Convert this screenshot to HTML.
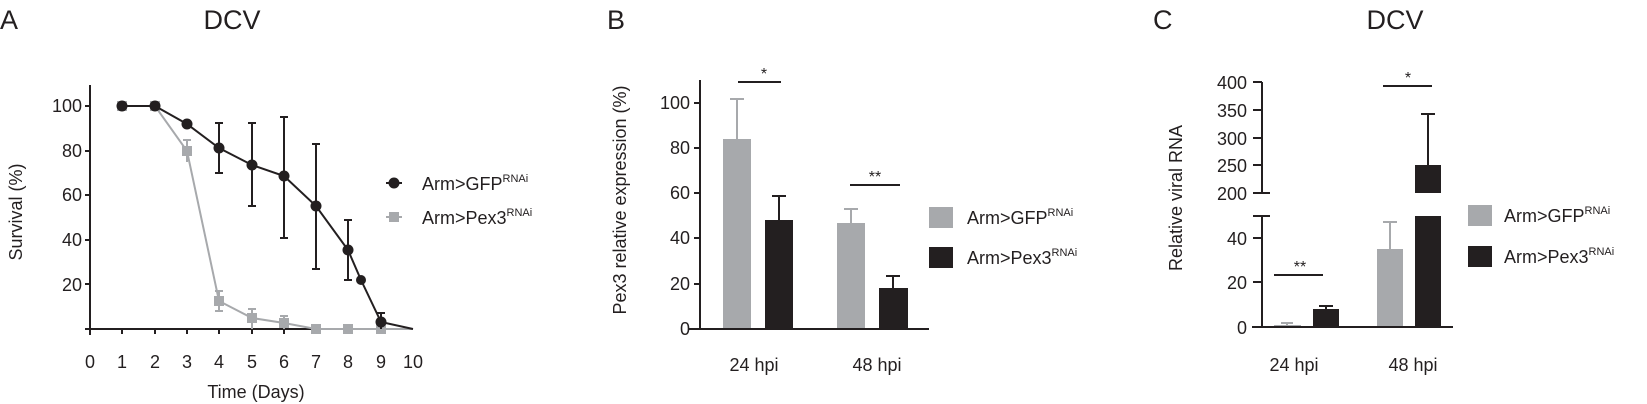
<!DOCTYPE html>
<html><head><meta charset="utf-8"><style>
body{margin:0;background:#fff}
svg{display:block;font-family:"Liberation Sans",Arial,sans-serif;fill:#231f20}
</style></head><body>
<svg width="1647" height="404" viewBox="0 0 1647 404" xmlns="http://www.w3.org/2000/svg">
<g font-size="27">
<text x="0" y="29">A</text>
<text x="232" y="29" text-anchor="middle">DCV</text>
<text x="607" y="29">B</text>
<text x="1153" y="29">C</text>
<text x="1395" y="29" text-anchor="middle">DCV</text>
</g>
<!-- Panel A -->
<g stroke="#231f20" stroke-width="2" fill="none">
<line x1="90" y1="85" x2="90" y2="335"/>
<line x1="85" y1="329" x2="413" y2="329"/>
<line x1="85" y1="106" x2="90" y2="106"/><line x1="85" y1="151" x2="90" y2="151"/><line x1="85" y1="195" x2="90" y2="195"/><line x1="85" y1="240" x2="90" y2="240"/><line x1="85" y1="284" x2="90" y2="284"/>
<line x1="122" y1="329" x2="122" y2="334"/><line x1="155" y1="329" x2="155" y2="334"/><line x1="187" y1="329" x2="187" y2="334"/><line x1="219" y1="329" x2="219" y2="334"/><line x1="252" y1="329" x2="252" y2="334"/><line x1="284" y1="329" x2="284" y2="334"/><line x1="316" y1="329" x2="316" y2="334"/><line x1="348" y1="329" x2="348" y2="334"/><line x1="381" y1="329" x2="381" y2="334"/>
</g>
<g font-size="18" text-anchor="end">
<text x="82" y="112">100</text><text x="82" y="157">80</text><text x="82" y="201">60</text><text x="82" y="246">40</text><text x="82" y="291">20</text>
</g>
<g font-size="18" text-anchor="middle">
<text x="90" y="368">0</text><text x="122" y="368">1</text><text x="155" y="368">2</text><text x="187" y="368">3</text><text x="219" y="368">4</text><text x="252" y="368">5</text><text x="284" y="368">6</text><text x="316" y="368">7</text><text x="348" y="368">8</text><text x="381" y="368">9</text><text x="413" y="368">10</text>
<text x="256" y="398">Time (Days)</text>
<text transform="translate(22,212) rotate(-90)">Survival (%)</text>
</g>
<g stroke="#a7a9ac" stroke-width="2" fill="none">
<polyline points="122,106 155,106 187,151 219,301 252,318 284,323 316,329 348,329 381,329 413,329"/>
<line x1="187" y1="140" x2="187" y2="162"/><line x1="183" y1="140" x2="191" y2="140"/>
<line x1="219" y1="291" x2="219" y2="311"/><line x1="215" y1="291" x2="223" y2="291"/><line x1="215" y1="311" x2="223" y2="311"/>
<line x1="252" y1="309" x2="252" y2="329"/><line x1="248" y1="309" x2="256" y2="309"/>
<line x1="284" y1="316" x2="284" y2="329"/><line x1="280" y1="316" x2="288" y2="316"/>
</g>
<g fill="#a7a9ac">
<rect x="117" y="101" width="10" height="10"/><rect x="150" y="101" width="10" height="10"/><rect x="182" y="146" width="10" height="10"/><rect x="214" y="296" width="10" height="10"/><rect x="247" y="313" width="10" height="10"/><rect x="279" y="318" width="10" height="10"/><rect x="311" y="324" width="10" height="10"/><rect x="343" y="324" width="10" height="10"/><rect x="376" y="324" width="10" height="10"/>
</g>
<g stroke="#231f20" stroke-width="2" fill="none">
<polyline points="122,106 155,106 187,124 219,148 252,165 284,176 316,206 348,250 361,280 381,322 413,329"/>
<line x1="219" y1="123" x2="219" y2="173"/><line x1="215" y1="123" x2="223" y2="123"/><line x1="215" y1="173" x2="223" y2="173"/>
<line x1="252" y1="123" x2="252" y2="206"/><line x1="248" y1="123" x2="256" y2="123"/><line x1="248" y1="206" x2="256" y2="206"/>
<line x1="284" y1="117" x2="284" y2="238"/><line x1="280" y1="117" x2="288" y2="117"/><line x1="280" y1="238" x2="288" y2="238"/>
<line x1="316" y1="144" x2="316" y2="269"/><line x1="312" y1="144" x2="320" y2="144"/><line x1="312" y1="269" x2="320" y2="269"/>
<line x1="348" y1="220" x2="348" y2="280"/><line x1="344" y1="220" x2="352" y2="220"/><line x1="344" y1="280" x2="352" y2="280"/>
<line x1="381" y1="313" x2="381" y2="329"/><line x1="377" y1="313" x2="385" y2="313"/>
</g>
<g fill="#231f20">
<circle cx="122" cy="106" r="5.5"/><circle cx="155" cy="106" r="5.5"/><circle cx="187" cy="124" r="5.5"/><circle cx="219" cy="148" r="5.5"/><circle cx="252" cy="165" r="5.5"/><circle cx="284" cy="176" r="5.5"/><circle cx="316" cy="206" r="5.5"/><circle cx="348" cy="250" r="5.5"/><circle cx="361" cy="280" r="5"/><circle cx="381" cy="322" r="5.5"/>
</g>
<line x1="386" y1="183" x2="402" y2="183" stroke="#231f20" stroke-width="2"/><circle cx="394" cy="183" r="5.5"/>
<line x1="386" y1="217" x2="402" y2="217" stroke="#a7a9ac" stroke-width="2"/><rect x="389" y="212" width="10" height="10" fill="#a7a9ac"/>
<g font-size="18"><text x="422" y="190">Arm&gt;GFP<tspan font-size="11" dy="-8">RNAi</tspan></text>
<text x="422" y="224">Arm&gt;Pex3<tspan font-size="11" dy="-8">RNAi</tspan></text></g>

<!-- Panel B -->
<rect x="723" y="139" width="28" height="190" fill="#a7a9ac"/>
<rect x="765" y="220" width="28" height="109" fill="#231f20"/>
<rect x="837" y="223" width="28" height="106" fill="#a7a9ac"/>
<rect x="879" y="288" width="29" height="41" fill="#231f20"/>
<g stroke-width="2" fill="none">
<g stroke="#a7a9ac"><line x1="737" y1="139" x2="737" y2="99"/><line x1="730" y1="99" x2="744" y2="99"/>
<line x1="851" y1="223" x2="851" y2="209"/><line x1="844" y1="209" x2="858" y2="209"/></g>
<g stroke="#231f20"><line x1="779" y1="220" x2="779" y2="196"/><line x1="772" y1="196" x2="786" y2="196"/>
<line x1="893" y1="288" x2="893" y2="276"/><line x1="886" y1="276" x2="900" y2="276"/>
<line x1="700" y1="80" x2="700" y2="329"/><line x1="689" y1="329" x2="929" y2="329"/>
<line x1="694" y1="103" x2="700" y2="103"/><line x1="694" y1="148" x2="700" y2="148"/><line x1="694" y1="193" x2="700" y2="193"/><line x1="694" y1="238" x2="700" y2="238"/><line x1="694" y1="284" x2="700" y2="284"/>
<line x1="738" y1="82" x2="781" y2="82"/><line x1="850" y1="185" x2="900" y2="185"/></g>
</g>
<g font-size="18" text-anchor="end">
<text x="690" y="109">100</text><text x="690" y="154">80</text><text x="690" y="199">60</text><text x="690" y="244">40</text><text x="690" y="290">20</text><text x="690" y="335">0</text>
</g>
<g font-size="18" text-anchor="middle">
<text x="754" y="371">24 hpi</text><text x="877" y="371">48 hpi</text>
<text transform="translate(626,200) rotate(-90)">Pex3 relative expression (%)</text>
<text x="764" y="79" font-size="16">*</text><text x="875" y="182" font-size="16">**</text>
</g>
<rect x="929" y="207" width="24" height="21" fill="#a7a9ac"/>
<rect x="929" y="247" width="24" height="21" fill="#231f20"/>
<g font-size="18"><text x="967" y="224">Arm&gt;GFP<tspan font-size="11" dy="-8">RNAi</tspan></text>
<text x="967" y="264">Arm&gt;Pex3<tspan font-size="11" dy="-8">RNAi</tspan></text></g>

<!-- Panel C -->
<rect x="1274" y="325" width="27" height="2" fill="#a7a9ac"/>
<rect x="1313" y="309" width="26" height="18" fill="#231f20"/>
<rect x="1377" y="249" width="26" height="78" fill="#a7a9ac"/>
<rect x="1415" y="216" width="26" height="111" fill="#231f20"/>
<rect x="1415" y="165" width="26" height="28" fill="#231f20"/>
<g stroke-width="2" fill="none">
<g stroke="#a7a9ac"><line x1="1287" y1="325" x2="1287" y2="323"/><line x1="1281" y1="323" x2="1293" y2="323"/>
<line x1="1390" y1="249" x2="1390" y2="222"/><line x1="1383" y1="222" x2="1397" y2="222"/></g>
<g stroke="#231f20"><line x1="1326" y1="309" x2="1326" y2="306"/><line x1="1319" y1="306" x2="1333" y2="306"/>
<line x1="1428" y1="165" x2="1428" y2="114"/><line x1="1421" y1="114" x2="1435" y2="114"/>
<line x1="1262" y1="82" x2="1262" y2="193"/><line x1="1262" y1="216" x2="1262" y2="327"/>
<line x1="1252" y1="327" x2="1453" y2="327"/>
<line x1="1253" y1="82" x2="1262" y2="82"/><line x1="1253" y1="110" x2="1262" y2="110"/><line x1="1253" y1="138" x2="1262" y2="138"/><line x1="1253" y1="165" x2="1262" y2="165"/><line x1="1253" y1="193" x2="1270" y2="193"/>
<line x1="1253" y1="216" x2="1270" y2="216"/><line x1="1253" y1="238" x2="1262" y2="238"/><line x1="1253" y1="282" x2="1262" y2="282"/>
<line x1="1274" y1="275" x2="1323" y2="275"/><line x1="1383" y1="86" x2="1432" y2="86"/></g>
</g>
<g font-size="18" text-anchor="end">
<text x="1247" y="89">400</text><text x="1247" y="117">350</text><text x="1247" y="145">300</text><text x="1247" y="172">250</text><text x="1247" y="200">200</text>
<text x="1247" y="245">40</text><text x="1247" y="289">20</text><text x="1247" y="334">0</text>
</g>
<g font-size="18" text-anchor="middle">
<text x="1294" y="371">24 hpi</text><text x="1413" y="371">48 hpi</text>
<text transform="translate(1082,198) rotate(-90)" x="0" y="0" dx="0" dy="0" style="display:none"> </text>
<text transform="translate(1182,198) rotate(-90)">Relative viral RNA</text>
<text x="1300" y="272" font-size="16">**</text><text x="1408" y="83" font-size="16">*</text>
</g>
<rect x="1468" y="205" width="24" height="21" fill="#a7a9ac"/>
<rect x="1468" y="246" width="24" height="21" fill="#231f20"/>
<g font-size="18"><text x="1504" y="222">Arm&gt;GFP<tspan font-size="11" dy="-8">RNAi</tspan></text>
<text x="1504" y="263">Arm&gt;Pex3<tspan font-size="11" dy="-8">RNAi</tspan></text></g>
</svg>
</body></html>
